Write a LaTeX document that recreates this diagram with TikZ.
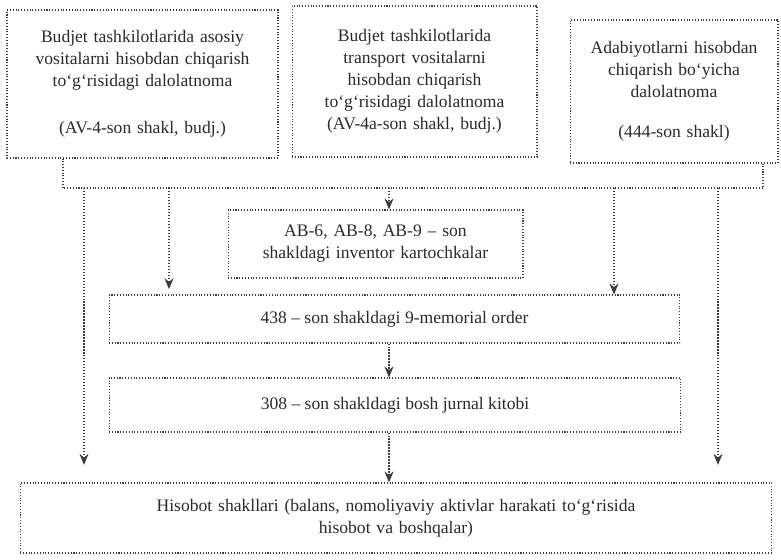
\documentclass[tikz,border=0pt]{standalone}
\usepackage{fontspec}
\setmainfont{Liberation Serif}
\usetikzlibrary{arrows.meta, calc}
\definecolor{scanInk}{HTML}{3C3C3C}
\definecolor{scanText}{HTML}{2A2A2A}
\tikzset{
  >={Stealth[length=2.2mm, width=1.8mm]},
  doc/.style={draw=scanInk, densely dotted, line width=0.6pt,
    align=center, font=\fontsize{10}{12.5}\selectfont, text=scanText,
    inner sep=2pt},
  flow/.style={->, draw=scanInk, densely dotted, line width=0.7pt},
  link/.style={draw=scanInk, densely dotted, line width=0.6pt},
  sparse/.style={draw=scanInk, dotted, line width=0.6pt},
}

\begin{document}
\begin{tikzpicture}[x=0.02cm, y=-0.02cm]
  \useasboundingbox (0,0) rectangle (781,560);

  % ---- Source documents ---------------------------------------------------
  \node[doc, minimum width=5.42cm, minimum height=2.96cm, text width=5.1cm]
    (akt) at (142.5,84)
    {Budjet tashkilotlarida asosiy\\ vositalarni hisobdan chiqarish\\
     to‘g‘risidagi dalolatnoma\\[14pt] (AV-4-son shakl, budj.)};
  \node[doc, minimum width=4.9cm, minimum height=3.02cm, text width=4.6cm]
    (trans) at (414.5,81.5)
    {Budjet tashkilotlarida\\ transport vositalarni\\ hisobdan chiqarish\\
     to‘g‘risidagi dalolatnoma\\ (AV-4a-son shakl, budj.)};
  \node[doc, minimum width=4.16cm, minimum height=2.86cm, text width=3.9cm]
    (adab) at (674,91.5)
    {Adabiyotlarni hisobdan\\ chiqarish bo‘yicha\\ dalolatnoma\\[10pt]
     (444-son shakl)};

  % ---- Collecting line under the documents --------------------------------
  \coordinate (brL) at (63,188);
  \coordinate (brR) at (763,188);
  \draw[link] (akt.south -| brL) -- (brL) -- (brR) -- (adab.south -| brR);
  \draw[sparse] ($(trans.south)+(11.5,0)$) -- ($(trans.south)+(11.5,0)$ |- brL);

  % ---- Registers ----------------------------------------------------------
  \node[doc, minimum width=5.9cm, minimum height=1.36cm, text width=5.6cm]
    (inv) at (375.5,244)
    {AB-6, AB-8, AB-9 – son\\ shakldagi inventor kartochkalar};
  \node[doc, minimum width=11.42cm, minimum height=0.96cm]
    (mem) at (394.5,319) {438 – son shakldagi 9-memorial order};
  \node[doc, minimum width=11.44cm, minimum height=1.08cm]
    (jur) at (395,405) {308 – son shakldagi bosh jurnal kitobi};
  \node[doc, minimum width=15.04cm, minimum height=1.4cm, text width=14cm]
    (hisob) at (396,518)
    {Hisobot shakllari (balans, nomoliyaviy aktivlar harakati to‘g‘risida\\
     hisobot va boshqalar)};

  % ---- Arrows -------------------------------------------------------------
  \coordinate (tA)  at (389,188);
  \coordinate (tL)  at (169,188);
  \coordinate (tR)  at (614,188);
  \coordinate (tLL) at (84,188);
  \coordinate (tRR) at (718,188);

  \draw[flow] (tA) -- (tA |- inv.north);
  \draw[flow, shorten >=3pt] (tL) -- (tL |- mem.north);
  \draw[flow] (tR) -- (tR |- mem.north);
  \draw[flow] (mem.south -| tA) -- (jur.north -| tA);
  \draw[flow] (jur.south -| tA) -- (hisob.north -| tA);
  \draw[flow, shorten >=10pt] (tLL) -- (tLL |- hisob.north);
  \draw[flow, shorten >=10pt] (tRR) -- (tRR |- hisob.north);

\end{tikzpicture}
\end{document}
